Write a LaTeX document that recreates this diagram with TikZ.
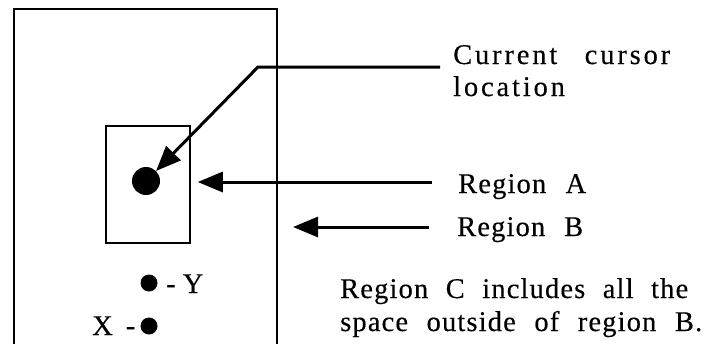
\documentclass[tikz,border=0pt]{standalone}
\usepackage{fontspec}
\setmainfont{Liberation Serif}
\usetikzlibrary{arrows.meta}
\begin{document}
\begin{tikzpicture}[x=1pt,y=-1pt,
  frame/.style={line width=2.5pt},
  boxA/.style={draw, line width=1.5pt, minimum width=84pt, minimum height=117pt, inner sep=0pt},
  bigdot/.style={circle, fill, minimum size=28pt, inner sep=0pt},
  smalldot/.style={circle, fill, minimum size=17pt, inner sep=0pt},
  pointer/.style={line width=3pt, -{Triangle[length=25pt,width=20pt]}},
  lbl/.style={anchor=base west, inner sep=0pt,
    font=\fontsize{28.5}{34}\selectfont\addfontfeature{FakeBold=0.3}},
  wide/.style={anchor=base west, inner sep=0pt,
    font=\fontsize{28.5}{34}\selectfont\addfontfeature{FakeBold=0.3,LetterSpace=10}},
  mid/.style={anchor=base west, inner sep=0pt,
    font=\fontsize{28.5}{34}\selectfont\addfontfeature{FakeBold=0.3,LetterSpace=4}}]
\useasboundingbox (0,0) rectangle (712,343);

% Region B: the outer frame, open at the bottom
\draw[frame] (14,350) -- (14,9) -- (277,9) -- (277,350);

% Region A and the cursor inside it
\node[boxA] (boxA) at (148,184.5) {};
\node[bigdot] (cursor) at (146,181) {};

% the two sample points
\node[smalldot] (ydot) at (149,283) {};
\node[smalldot] (xdot) at (149,326) {};
\node[lbl] (ylbl) at (166,293) {- Y};
\node[lbl] (xlbl) at (92,335) {X\hspace{13pt}-};

% labels on the right
\node[wide] (curlbl) at (453,64) {\makebox[217pt][s]{Current cursor}};
\node[wide] (loclbl) at (453,96) {location};
\node[mid] (albl) at (458,193) {\makebox[128pt][s]{Region A}};
\node[mid] (blbl) at (457,236) {\makebox[126pt][s]{Region B}};
\node[mid] (clbl1) at (340,298) {\makebox[348pt][s]{Region C includes all the}};
\node[mid] (clbl2) at (340,331) {\makebox[362pt][s]{space outside of region B.}};

% leader ends
\coordinate (curend) at (440,67);
\coordinate (bend) at (258,67);
\coordinate (aend) at (432,182);
\coordinate (bstart) at (429,227);
\coordinate (btip) at (293,227);

% pointers
\draw[pointer] (curend) -- (bend) -- (cursor.north east);
\draw[pointer] (aend) -- ([xshift=7pt]boxA.east |- aend);
\draw[pointer] (bstart) -- (btip);
\end{tikzpicture}
\end{document}
